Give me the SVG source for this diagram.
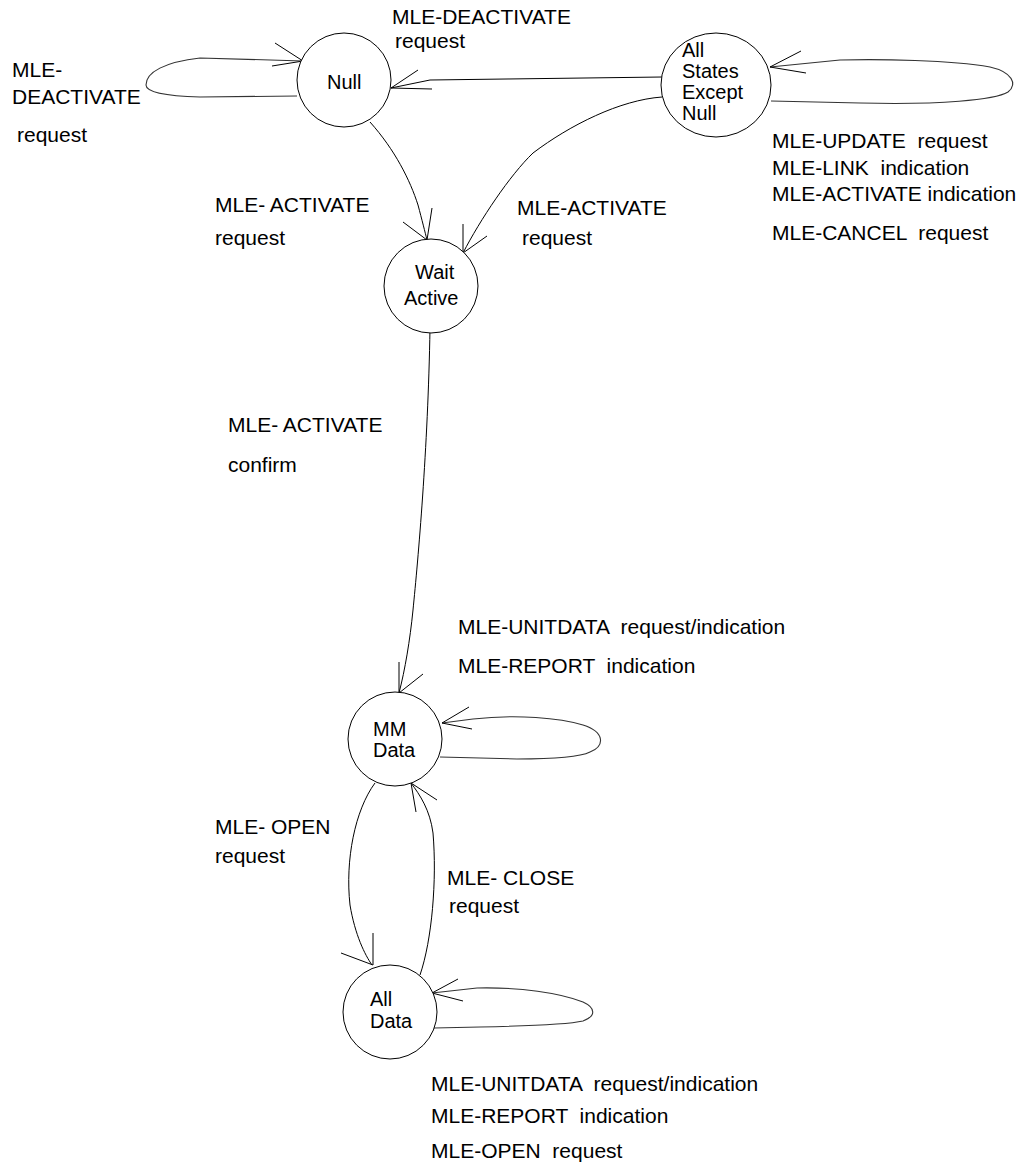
<svg xmlns="http://www.w3.org/2000/svg" width="1023" height="1167" viewBox="0 0 1023 1167">
<style>
  .st { fill: #fff; stroke: #000; stroke-width: 1; }
  .nt { font-family: "Liberation Sans", Arial, sans-serif; font-size: 20px; fill: #000; }
  .lb { font-family: "Liberation Sans", Arial, sans-serif; font-size: 21px; fill: #000; white-space: pre; }
  .ln { fill: none; stroke: #000; stroke-width: 1; }
  .lp { fill: none; stroke: #333; stroke-width: 1.1; }
</style>
<rect width="1023" height="1167" fill="#fff"/>

<g id="connectors">
  <!-- Null self loop -->
  <path class="lp" d="M 297 96 L 200 97 C 165 96, 146 92, 146 85 C 146 72, 165 62, 200 58 L 303 61"/>
  <path class="ln" d="M 275 43 L 303 61 L 272 66"/>
  <!-- All States -> Null -->
  <path class="ln" d="M 662 77 L 430 80 L 391 88"/>
  <path class="ln" d="M 418 70 L 391 88 L 432 89"/>
  <!-- All States self loop -->
  <path class="lp" d="M 771 101 L 860 103 C 940 105, 995 100, 1008 92 C 1018 84, 1012 72, 990 67 C 950 60, 880 59, 840 60 L 770 67"/>
  <path class="ln" d="M 801 51 L 770 67 L 806 73"/>
  <!-- Null -> Wait Active -->
  <path class="ln" d="M 370 122 C 395 150, 410 180, 418 205 C 422 220, 425 232, 427 240"/>
  <path class="ln" d="M 403 222 L 427 240 L 432 208"/>
  <!-- All States -> Wait Active -->
  <path class="ln" d="M 662 97 C 620 100, 570 125, 533 153 C 510 175, 480 220, 463 253"/>
  <path class="ln" d="M 463 224 L 463 253 L 487 236"/>
  <!-- Wait Active -> MM Data -->
  <path class="ln" d="M 430 328 C 428 450, 418 560, 413 610 C 410 640, 405 670, 399 693"/>
  <path class="ln" d="M 399 662 L 399 693 L 423 674"/>
  <!-- MM Data self loop -->
  <path class="lp" d="M 440 757 L 517 759 C 560 759, 580 757, 590 752 C 605 746, 605 732, 583 725 C 560 718, 517 714, 473 719 L 442 723"/>
  <path class="ln" d="M 469 707 L 442 723 L 472 729"/>
  <!-- MM Data -> All Data -->
  <path class="ln" d="M 375 783 C 355 810, 345 860, 350 905 C 355 935, 365 955, 372 965"/>
  <path class="ln" d="M 373 933 L 373 965 L 341 953"/>
  <!-- All Data -> MM Data -->
  <path class="ln" d="M 420 975 C 432 940, 437 880, 433 833 C 430 810, 420 795, 411 783"/>
  <path class="ln" d="M 416 812 L 411 783 L 437 800"/>
  <!-- All Data self loop -->
  <path class="lp" d="M 434 1028 L 480 1027 C 530 1026, 570 1024, 583 1021 C 596 1016, 596 1008, 583 1002 C 560 993, 520 987, 477 988 L 432 993"/>
  <path class="ln" d="M 458 979 L 432 993 L 463 1001"/>
</g>

<g id="node-null">
  <circle class="st" cx="344" cy="80" r="47"/>
  <text class="nt" x="327" y="89">Null</text>
</g>
<g id="node-all-states">
  <ellipse class="st" cx="716" cy="85" rx="55" ry="52"/>
  <text class="nt" x="682" y="57">All</text>
  <text class="nt" x="682" y="78">States</text>
  <text class="nt" x="682" y="99">Except</text>
  <text class="nt" x="682" y="120">Null</text>
</g>
<g id="node-wait-active">
  <circle class="st" cx="431" cy="286" r="47"/>
  <text class="nt" x="415" y="279">Wait</text>
  <text class="nt" x="404" y="305">Active</text>
</g>
<g id="node-mm-data">
  <circle class="st" cx="395" cy="739" r="47"/>
  <text class="nt" x="373" y="736">MM</text>
  <text class="nt" x="373" y="757">Data</text>
</g>
<g id="node-all-data">
  <circle class="st" cx="390" cy="1012" r="47"/>
  <text class="nt" x="370" y="1006">All</text>
  <text class="nt" x="370" y="1028">Data</text>
</g>

<g id="labels">
  <text class="lb" x="12" y="77">MLE-</text>
  <text class="lb" x="12" y="104">DEACTIVATE</text>
  <text class="lb" x="17" y="142">request</text>

  <text class="lb" x="392" y="24">MLE-DEACTIVATE</text>
  <text class="lb" x="395" y="48">request</text>

  <text class="lb" x="215" y="212">MLE- ACTIVATE</text>
  <text class="lb" x="215" y="245">request</text>

  <text class="lb" x="517" y="215">MLE-ACTIVATE</text>
  <text class="lb" x="522" y="245">request</text>

  <text class="lb" x="772" y="148">MLE-UPDATE  request</text>
  <text class="lb" x="772" y="175">MLE-LINK  indication</text>
  <text class="lb" x="772" y="201">MLE-ACTIVATE indication</text>
  <text class="lb" x="772" y="240">MLE-CANCEL  request</text>

  <text class="lb" x="228" y="432">MLE- ACTIVATE</text>
  <text class="lb" x="228" y="472">confirm</text>

  <text class="lb" x="458" y="634">MLE-UNITDATA  request/indication</text>
  <text class="lb" x="458" y="673">MLE-REPORT  indication</text>

  <text class="lb" x="215" y="834">MLE- OPEN</text>
  <text class="lb" x="215" y="863">request</text>

  <text class="lb" x="447" y="885">MLE- CLOSE</text>
  <text class="lb" x="449" y="913">request</text>

  <text class="lb" x="431" y="1091">MLE-UNITDATA  request/indication</text>
  <text class="lb" x="431" y="1123">MLE-REPORT  indication</text>
  <text class="lb" x="431" y="1158">MLE-OPEN  request</text>
</g>
</svg>
